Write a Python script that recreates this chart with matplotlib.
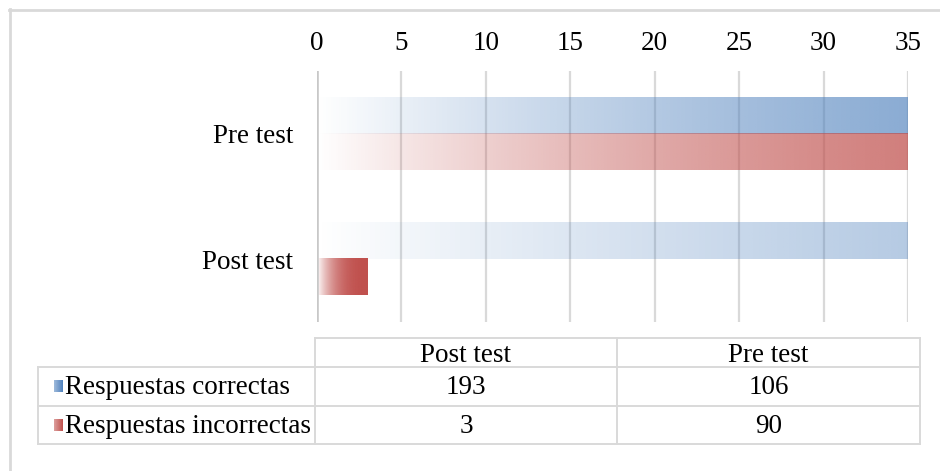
import numpy as np
import matplotlib
matplotlib.use("Agg")
import matplotlib.pyplot as plt
from matplotlib.lines import Line2D

# Data
categories = ["Post test", "Pre test"]
series_names = ["Respuestas correctas", "Respuestas incorrectas"]
correctas = [193, 106]
incorrectas = [3, 90]
x_ticks = [0, 5, 10, 15, 20, 25, 30, 35]

colors = [(79 / 255, 129 / 255, 189 / 255), (192 / 255, 80 / 255, 77 / 255)]
grid_c = "#d9d9d9"
FONT = "Liberation Serif"
FS = 19.5

W, H = 940, 471
fig = plt.figure(figsize=(W / 100, H / 100), dpi=100)
fig.patch.set_facecolor("white")


def fx(px):
    return px / W


def fy(py):
    return 1 - py / H


# Plot area
left, right, top, bottom = 317, 908, 71, 322
ax = fig.add_axes([fx(left), fy(bottom), fx(right - left), (bottom - top) / H])
xmax = x_ticks[-1]
ax.set_xlim(0, xmax)
ax.set_ylim(2, 0)
ax.set_facecolor("none")
for s in ax.spines.values():
    s.set_visible(False)
ax.set_yticks([])
ax.set_xticks(x_ticks)
ax.xaxis.tick_top()
ax.tick_params(axis="x", length=0, pad=11, labelsize=FS)
for lab in ax.get_xticklabels():
    lab.set_fontfamily(FONT)
for t in x_ticks[1:]:
    ax.axvline(t, color=grid_c, lw=1.6, zorder=1)
ax.axvline(0, color="#c8c8c8", lw=2.6, zorder=4)


def gradient_bar(axis, value, y0, y1, color, cap):
    end = min(value, cap)
    n = 400
    xs = np.linspace(0, end, n)
    t = xs / value
    a = 1 - (1 - t) ** 2.7
    rgba = np.zeros((1, n, 4))
    rgba[..., 0] = color[0]
    rgba[..., 1] = color[1]
    rgba[..., 2] = color[2]
    rgba[..., 3] = a
    axis.imshow(rgba, extent=[0, end, y1, y0], aspect="auto",
                interpolation="bilinear", zorder=3)


bar_h = 36 / 125
for i, cat in enumerate(categories):
    center = 1.5 - i  # Post test lower, Pre test upper
    gradient_bar(ax, correctas[i], center - bar_h, center, colors[0], xmax)
    gradient_bar(ax, incorrectas[i], center, center + bar_h, colors[1], xmax)
    ax.text(-1.4, center + 0.025, cat, ha="right", va="center", fontsize=FS,
            fontfamily=FONT)
ax.set_xlim(0, xmax)
ax.set_ylim(2, 0)

# Overlay in pixel coordinates for the frame and the data table
ov = fig.add_axes([0, 0, 1, 1], zorder=-1)
ov.set_xlim(0, W)
ov.set_ylim(H, 0)
ov.axis("off")
ov.add_line(Line2D([9, W], [9.5, 9.5], color=grid_c, lw=2))
ov.add_line(Line2D([9.5, 9.5], [9, H], color=grid_c, lw=2))

tl, tc1, tc2, tr = 38, 315, 617, 920
ty0, ty1, ty2, ty3 = 338, 367, 406, 444
lw_t = 1.4
ov.add_line(Line2D([tc1, tr], [ty0, ty0], color=grid_c, lw=lw_t))
for yy in (ty1, ty2, ty3):
    ov.add_line(Line2D([tl, tr], [yy, yy], color=grid_c, lw=lw_t))
ov.add_line(Line2D([tl, tl], [ty1, ty3], color=grid_c, lw=lw_t))
for xx in (tc1, tc2, tr):
    ov.add_line(Line2D([xx, xx], [ty0, ty3], color=grid_c, lw=lw_t))

col_centers = [(tc1 + tc2) / 2, (tc2 + tr) / 2]
for j, cat in enumerate(categories):
    ov.text(col_centers[j], (ty0 + ty1) / 2 + 3, cat, ha="center",
            va="center", fontsize=FS, fontfamily=FONT)

rows = [correctas, incorrectas]
row_centers = [(ty1 + ty2) / 2, (ty2 + ty3) / 2]
for r, (name, vals) in enumerate(zip(series_names, rows)):
    yc = row_centers[r]
    n = 50
    sw = np.zeros((1, n, 4))
    sw[..., :3] = colors[r]
    sw[..., 3] = np.linspace(0.55, 1, n)
    ov.imshow(sw, extent=[54, 63, yc + 6, yc - 6], aspect="auto",
              interpolation="bilinear")
    ov.text(65, yc + 1.5, name, ha="left", va="center", fontsize=FS,
            fontfamily=FONT)
    for j in range(len(categories)):
        ov.text(col_centers[j], yc + 1.5, str(vals[j]), ha="center",
                va="center", fontsize=FS, fontfamily=FONT)
ov.set_xlim(0, W)
ov.set_ylim(H, 0)

fig.savefig("out.png", dpi=100, facecolor="white")
